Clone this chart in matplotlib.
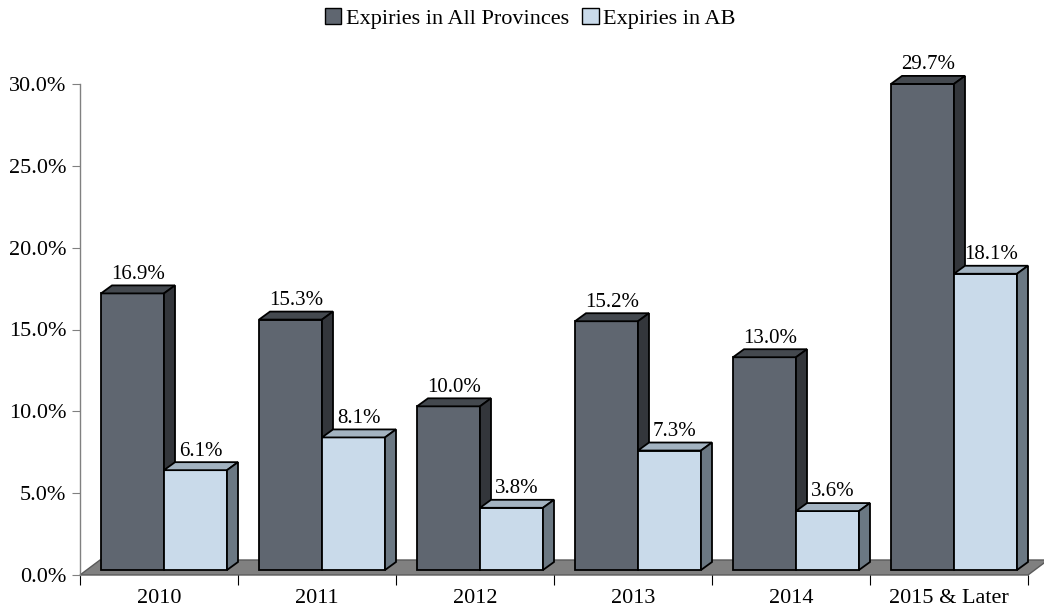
import matplotlib
matplotlib.use("Agg")
import matplotlib.pyplot as plt
from matplotlib.patches import Polygon, Patch

categories = ['2010', '2011', '2012', '2013', '2014', '2015 & Later']
all_provinces = [16.9, 15.3, 10.0, 15.2, 13.0, 29.7]
alberta = [6.1, 8.1, 3.8, 7.3, 3.6, 18.1]
series_names = ['Expiries in All Provinces', 'Expiries in AB']
yticks = [0, 5, 10, 15, 20, 25, 30]

plt.rcParams['font.family'] = ['Liberation Serif', 'DejaVu Serif']

fig = plt.figure(figsize=(10.44, 6.14), dpi=100)
L, R, B, T = 80, 1028, 575, 84
ax = fig.add_axes([L / 1044, (614 - B) / 614, (R - L) / 1044, (B - T) / 614])
ax.set_xlim(0, len(categories))
ax.set_ylim(0, 30)

xpx = (R - L) / len(categories)
ypx = (B - T) / 30.0

# geometry (in data units)
w = 63 / xpx
x_off = 21 / xpx
ddx, ddy = 11 / xpx, 8 / ypx
base = 5 / ypx
fdx, fdy = 20 / xpx, 15 / ypx

# floor
floor = Polygon([(0, 0), (len(categories), 0), (len(categories) + fdx, fdy), (fdx, fdy)],
                closed=True, facecolor='#808080', edgecolor='#5a5a5a', lw=1.0,
                clip_on=False, zorder=1)
ax.add_patch(floor)

colors = {
    0: ('#5f6670', '#44494f', '#33363b'),
    1: ('#c9daea', '#a3b3c1', '#6b7883'),
}

def bar3d(x0, v, cols, z):
    front, top, side = cols
    y1 = base + v
    kw = dict(closed=True, edgecolor='black', lw=1.3, clip_on=False, zorder=z, joinstyle='miter')
    ax.add_patch(Polygon([(x0, base), (x0 + w, base), (x0 + w, y1), (x0, y1)], facecolor=front, **kw))
    ax.add_patch(Polygon([(x0, y1), (x0 + w, y1), (x0 + w + ddx, y1 + ddy), (x0 + ddx, y1 + ddy)], facecolor=top, **kw))
    ax.add_patch(Polygon([(x0 + w, base), (x0 + w + ddx, base + ddy), (x0 + w + ddx, y1 + ddy), (x0 + w, y1)], facecolor=side, **kw))
    ax.text(x0 + w / 2 + ddx / 2, y1 + ddy + 0.1, f'{v:.1f}%', ha='center', va='bottom',
            fontsize=15, zorder=10)

z = 2
for i, (a, b) in enumerate(zip(all_provinces, alberta)):
    bar3d(i + x_off, a, colors[0], z)
    z += 1
    bar3d(i + x_off + w, b, colors[1], z)
    z += 1

for s in ['top', 'right', 'bottom']:
    ax.spines[s].set_visible(False)
ax.spines['left'].set_color('#808080')
ax.spines['left'].set_linewidth(1.0)

ax.set_yticks(yticks)
ax.set_yticklabels([f'{t:.1f}%' for t in yticks], fontsize=16)
ax.tick_params(axis='y', direction='out', length=6, color='#808080', pad=4)

ax.set_xticks(range(len(categories) + 1))
ax.set_xticklabels([''] * (len(categories) + 1))
ax.tick_params(axis='x', which='major', direction='out', length=7, color='black')
ax.set_xticks([i + 0.5 for i in range(len(categories))], minor=True)
ax.set_xticklabels(categories, minor=True, fontsize=16)
ax.tick_params(axis='x', which='minor', length=0, pad=10)

handles = [Patch(facecolor=colors[0][0], edgecolor='black', lw=1.0),
           Patch(facecolor=colors[1][0], edgecolor='black', lw=1.0)]
fig.legend(handles, series_names, loc='upper center', bbox_to_anchor=(0.508, 1.02), ncol=2,
           frameon=False, fontsize=16, handlelength=0.75, handleheight=0.75,
           handletextpad=0.2, columnspacing=0.6)

fig.savefig('out.png', dpi=100)
